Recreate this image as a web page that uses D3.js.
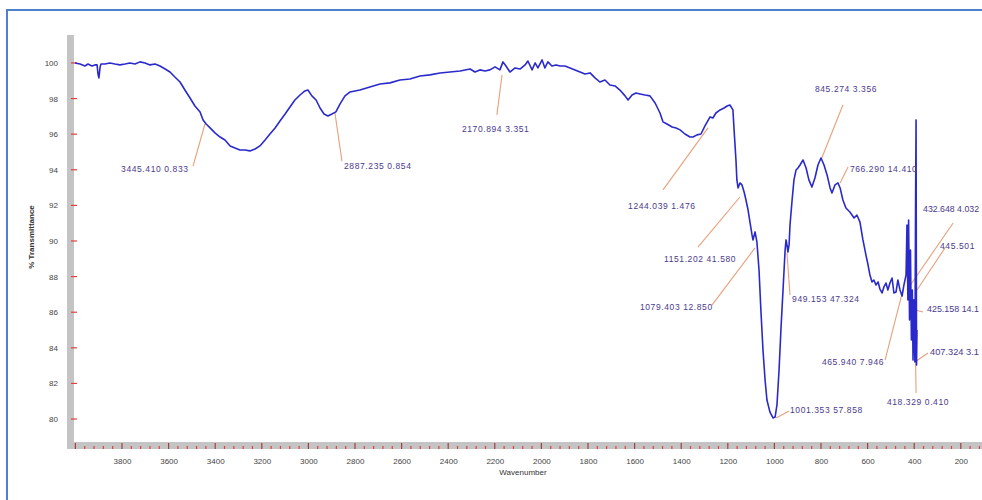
<!DOCTYPE html>
<html><head><meta charset="utf-8">
<script src="https://cdn.jsdelivr.net/npm/d3@7/dist/d3.min.js"></script>
<style>body{margin:0;background:#fff}svg{display:block}</style>
</head><body><svg id="c" width="982" height="500"></svg>
<script>
// Spectrum: wavenumber (cm-1) and % transmittance
const wavenumber = [4002,3980,3959,3946,3929,3916,3907,3903,3899,3894,3890,3873,3852,3830,3809,3787,3766,3744,3723,3701,3680,3658,3637,3615,3594,3573,3551,3530,3508,3487,3465,3452,3439,3422,3401,3379,3358,3336,3315,3294,3272,3251,3229,3208,3186,3165,3143,3122,3100,3079,3058,3036,3015,3002,2985,2967,2950,2933,2916,2899,2882,2864,2843,2821,2779,2736,2693,2650,2607,2564,2521,2478,2435,2392,2349,2306,2285,2264,2242,2221,2199,2178,2165,2152,2135,2113,2092,2070,2058,2040,2027,2015,1997,1985,1972,1955,1937,1920,1899,1877,1856,1834,1813,1791,1770,1749,1727,1706,1684,1663,1641,1628,1611,1594,1577,1555,1534,1512,1491,1478,1461,1439,1422,1405,1384,1362,1349,1332,1315,1298,1276,1264,1251,1233,1216,1203,1191,1178,1173,1165,1161,1156,1148,1139,1130,1122,1113,1105,1096,1092,1083,1075,1066,1058,1049,1040,1032,1019,1006,997,989,980,972,963,954,950,946,942,937,933,924,916,907,899,890,877,864,852,839,826,813,800,787,774,761,753,740,727,718,706,693,676,658,646,633,620,607,598,590,581,573,564,555,547,538,530,521,513,504,495,487,478,470,461,452,444,435,431,427,424,420,416,412,408,405,401,397,394,392,390,388];
const transmittance = [100.00,99.94,99.83,99.94,99.83,99.89,99.89,99.38,99.16,99.78,99.94,99.94,100.00,99.94,99.89,99.94,100.00,99.94,100.06,100.00,99.89,99.94,99.83,99.66,99.49,99.21,98.93,98.48,98.03,97.58,97.25,96.80,96.57,96.35,96.07,95.84,95.67,95.34,95.22,95.11,95.11,95.06,95.17,95.34,95.67,96.01,96.35,96.74,97.13,97.53,97.92,98.20,98.43,98.48,98.15,97.92,97.47,97.13,97.02,97.13,97.25,97.70,98.15,98.37,98.48,98.65,98.82,98.88,99.04,99.10,99.27,99.33,99.44,99.49,99.55,99.66,99.49,99.61,99.55,99.61,99.78,99.61,100.06,99.83,99.49,99.72,99.66,99.89,100.11,99.61,100.00,99.72,100.17,99.72,100.06,99.83,99.89,99.83,99.83,99.72,99.61,99.49,99.38,99.44,99.16,98.93,99.04,98.76,98.71,98.48,98.15,97.92,98.20,98.31,98.26,98.20,98.15,97.75,97.19,96.69,96.57,96.40,96.35,96.24,96.01,95.84,95.84,95.96,96.01,96.46,96.97,96.91,97.19,97.36,97.47,97.58,97.64,97.36,96.24,94.55,93.43,92.98,93.26,93.15,92.75,92.30,91.74,91.07,90.34,90.06,90.51,89.94,88.37,86.12,83.88,82.19,81.07,80.39,80.06,80.11,80.79,82.75,85.00,87.25,89.49,90.06,89.78,89.38,89.78,90.90,92.30,93.43,93.99,94.10,94.27,94.55,94.10,93.43,93.03,93.54,94.27,94.66,94.27,93.71,92.98,92.70,93.15,93.26,92.98,92.30,91.85,91.63,91.29,91.46,91.07,90.06,89.21,88.65,88.09,87.70,87.81,87.53,87.70,87.30,87.08,87.42,87.64,87.25,87.64,87.92,87.08,87.13,87.81,87.25,86.91,87.53,88.09,90.90,86.69,91.18,85.56,89.49,84.44,87.25,83.31,86.69,83.20,92.30,96.80,83.03,85.00];

const yTicks = [80,82,84,86,88,90,92,94,96,98,100];
const xTicks = [3800,3600,3400,3200,3000,2800,2600,2400,2200,2000,1800,1600,1400,1200,1000,800,600,400,200];

// Peak annotations
const peakLabels = ["3445.410 0.833","2887.235 0.854","2170.894 3.351","1244.039 1.476","1151.202 41.580","1079.403 12.850","1001.353 57.858","949.153 47.324","845.274 3.356","766.290 14.410","432.648 4.032","445.501","425.158 14.1","407.324 3.1","418.329 0.410","465.940 7.946"];
const peakWn = [3444,2886,2169,1285,1148,1083,993,946,800,718,431,388,397,397,397,448];
const peakT  = [96.57,97.19,99.33,96.35,92.47,89.61,80.06,89.33,94.55,93.26,87.25,87.25,86.12,83.20,86.52,87.25];
// label placement (data units) and leader start
const labelWn = [3804,2847,2341,1628,1474,1577,933,924,826,676,362,289,345,332,517,796];
const labelT  = [93.99,94.16,96.24,91.91,88.93,86.24,80.45,86.69,98.48,93.99,91.74,89.66,86.12,83.71,80.90,83.15];
const leadWn  = [3495,2856,2191,1478,1328,1268,937,933,706,684,233,268,362,341,392,525];
const leadT   = [94.21,94.49,97.08,92.87,89.66,86.40,80.45,86.96,97.64,94.16,91.01,89.61,86.01,83.71,81.46,83.31];

const svg = d3.select("#c");
const x = d3.scaleLinear().domain([4006,109]).range([74,982]);
const y = d3.scaleLinear().domain([78.71,101.57]).range([442,35]);

// outer frame (top and left edges visible)
svg.append("path").attr("d","M7,500 V10 H982")
  .attr("fill","none").attr("stroke","#4f7fcf").attr("stroke-width",2);

// gray axis bars
svg.append("rect").attr("x",67).attr("y",35).attr("width",7).attr("height",414).attr("fill","#c4c4c4");
svg.append("rect").attr("x",67).attr("y",442).attr("width",915).attr("height",7).attr("fill","#c4c4c4");

// y axis
const yAxis = d3.axisLeft(y).tickValues(yTicks).tickSize(0).tickPadding(9).tickFormat(d3.format("d"));
const gy = svg.append("g").attr("transform","translate(67,0)").call(yAxis);
gy.select(".domain").remove();
gy.selectAll("text").attr("font-family","Arial, Liberation Sans, sans-serif").attr("font-size",8).attr("fill","#444");
svg.append("g").selectAll("line").data(yTicks).join("line")
  .attr("x1",71).attr("x2",77).attr("y1",d=>y(d)).attr("y2",d=>y(d))
  .attr("stroke","#e04040").attr("stroke-width",1.2);

// x axis
const xAxis = d3.axisBottom(x).tickValues(xTicks).tickSize(0).tickPadding(9).tickFormat(d3.format("d"));
const gx = svg.append("g").attr("transform","translate(0,449)").call(xAxis);
gx.select(".domain").remove();
gx.selectAll("text").attr("font-family","Arial, Liberation Sans, sans-serif").attr("font-size",8).attr("fill","#444");
const minor = d3.range(4000,100,-40);
svg.append("g").selectAll("line").data(minor).join("line")
  .attr("x1",d=>x(d)).attr("x2",d=>x(d))
  .attr("y1",d=>d%200===0?443:446).attr("y2",449)
  .attr("stroke",d=>d%200===0?"#a04040":"#e04040").attr("stroke-width",1.2);

// axis titles
svg.append("text").attr("x",523).attr("y",475).attr("text-anchor","middle")
  .attr("font-family","Arial, Liberation Sans, sans-serif").attr("font-size",8).attr("fill","#333").text("Wavenumber");
svg.append("text").attr("transform","translate(34,237) rotate(-90)").attr("text-anchor","middle")
  .attr("font-family","Arial, Liberation Sans, sans-serif").attr("font-size",8).attr("font-weight","bold").attr("fill","#333").text("% Transmittance");

// leader lines
const ann = peakLabels.map((t,i)=>({t,pw:peakWn[i],pt:peakT[i],lw:labelWn[i],lt:labelT[i],sw:leadWn[i],st:leadT[i]}));
svg.append("g").selectAll("line").data(ann).join("line")
  .attr("x1",d=>x(d.sw)).attr("y1",d=>y(d.st)).attr("x2",d=>x(d.pw)).attr("y2",d=>y(d.pt))
  .attr("stroke","#e8a07a").attr("stroke-width",1.1);

// spectrum
const pts = wavenumber.map((w,i)=>[w,transmittance[i]]);
svg.append("path").datum(pts)
  .attr("d",d3.line().x(d=>x(d[0])).y(d=>y(d[1])))
  .attr("fill","none").attr("stroke","#2a2acc").attr("stroke-width",1.6).attr("stroke-linejoin","round");

// labels
svg.append("g").selectAll("text").data(ann).join("text")
  .attr("x",d=>x(d.lw)).attr("y",d=>y(d.lt)).attr("dominant-baseline","middle")
  .attr("font-family","Arial, Liberation Sans, sans-serif").attr("font-size",8.5).attr("letter-spacing",0.6)
  .attr("fill","#4a3a8c").text(d=>d.t)
  .each(function(){
    const b = this.getBBox();
    if (b.x + b.width > 979) {
      d3.select(this).attr("letter-spacing",0)
        .attr("textLength", 979 - b.x).attr("lengthAdjust","spacingAndGlyphs");
    }
  });
</script></body></html>
